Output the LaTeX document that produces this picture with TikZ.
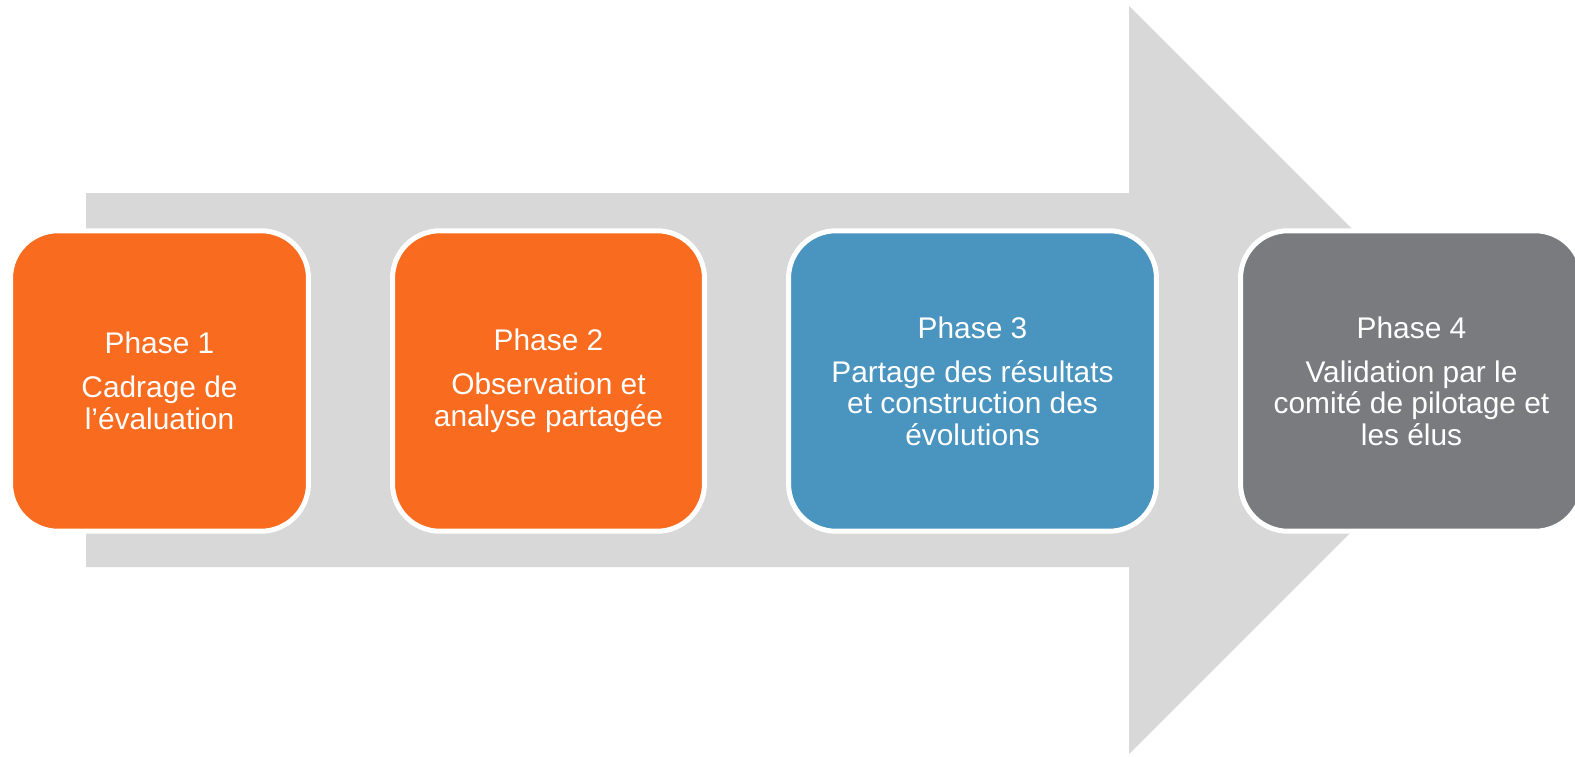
\documentclass[tikz,border=0pt]{standalone}
\usepackage{fontspec}
\setmainfont{Liberation Sans}
\definecolor{phaseorange}{HTML}{F96B1E}
\definecolor{phaseblue}{HTML}{4A94C0}
\definecolor{phasegray}{HTML}{7A7B7F}
\definecolor{arrowgray}{HTML}{D8D8D8}
\begin{document}
\begin{tikzpicture}[x=0.02cm,y=-0.02cm]
        \useasboundingbox (0,0) rectangle (1575,757);
        \fill[arrowgray] (86,193) -- (1129,193) -- (1129,6) -- (1503,380) -- (1129,754) -- (1129,567) -- (86,567) -- cycle;
        \begin{scope}[every node/.style={rounded corners=0.95cm,draw=white,line width=0.1cm,text=white,align=center,minimum height=6.01cm,font=\fontsize{17}{18}\selectfont}]
        \node[fill=phaseorange,minimum width=5.96cm] (p1) at (159.5,381) {Phase 1\\[7pt]Cadrage de\\l’évaluation};
        \node[fill=phaseorange,minimum width=6.24cm] (p2) at (548.5,381) {Phase 2\\[7pt]Observation et\\analyse partagée};
        \node[fill=phaseblue,minimum width=7.36cm] (p3) at (972.5,381) {Phase 3\\[7pt]Partage des résultats\\et construction des\\évolutions};
        \node[fill=phasegray,minimum width=6.84cm] (p4) at (1411.5,381) {Phase 4\\[7pt]Validation par le\\comité de pilotage et\\les élus};
        \end{scope}
\end{tikzpicture}
\end{document}
